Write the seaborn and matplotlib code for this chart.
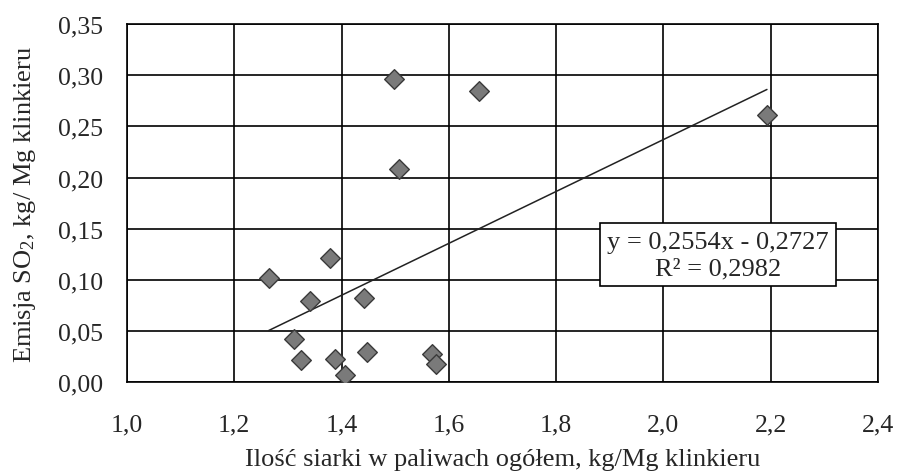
import numpy as np
import pandas as pd
import matplotlib
matplotlib.use("Agg")
import matplotlib.pyplot as plt
import seaborn as sns

# sulphur in fuels (x) vs SO2 emission (y), kg/Mg clinker
siarka = [1.497, 1.657, 1.507, 1.378, 1.264, 1.342, 1.441, 1.312,
          1.324, 1.388, 1.406, 1.447, 1.568, 1.576, 2.193]
emisja = [0.296, 0.285, 0.208, 0.1215, 0.102, 0.079, 0.082, 0.042,
          0.022, 0.023, 0.0075, 0.030, 0.028, 0.018, 0.261]
x_ticks = [1.0, 1.2, 1.4, 1.6, 1.8, 2.0, 2.2, 2.4]
y_ticks = [0.00, 0.05, 0.10, 0.15, 0.20, 0.25, 0.30, 0.35]
rownanie = "y = 0,2554x - 0,2727\nR² = 0,2982"

df = pd.DataFrame({"x": siarka, "y": emisja})

sns.set_style("white")
plt.rcParams["font.family"] = ["Liberation Serif", "DejaVu Serif"]
plt.rcParams["mathtext.fontset"] = "custom"
plt.rcParams["mathtext.rm"] = "Liberation Serif"
plt.rcParams["mathtext.it"] = "Liberation Serif:italic"

fig = plt.figure(figsize=(8.97, 4.77), dpi=100)
ax = fig.add_axes([0.1416, 0.1964, 0.9788 - 0.1416, 0.9476 - 0.1964])

sns.regplot(data=df, x="x", y="y", ax=ax, scatter=False, ci=None, truncate=True,
            line_kws={"color": "#222222", "lw": 1.1})
sns.scatterplot(data=df, x="x", y="y", ax=ax, marker="D", s=100,
                color="#7a7a7a", edgecolor="#3a3a3a", linewidth=1.0, zorder=3)

ax.set_xlim(1.0, 2.4)
ax.set_ylim(0.0, 0.35)
ax.set_xticks(x_ticks)
ax.set_yticks(y_ticks)
ax.set_xticklabels([f"{v:.1f}".replace(".", ",") for v in x_ticks])
ax.set_yticklabels([f"{v:.2f}".replace(".", ",") for v in y_ticks])
ax.grid(True, color="black", lw=1.2)
ax.set_axisbelow(True)
for s in ax.spines.values():
    s.set_color("black")
    s.set_linewidth(1.2)
ax.tick_params(axis="both", direction="out", length=6.5, width=1.2,
               color="black", labelsize=18.5)
ax.tick_params(axis="y", pad=11)
ax.tick_params(axis="x", pad=16)

ax.set_xlabel("Ilość siarki w paliwach ogółem, kg/Mg klinkieru", fontsize=19, labelpad=9)
ax.set_ylabel("Emisja SO$_{2}$, kg/ Mg klinkieru", fontsize=19, labelpad=14)

ax.text(2.102, 0.1245, rownanie, ha="center", va="center", fontsize=19,
        linespacing=1.25,
        bbox=dict(boxstyle="square,pad=0.28", fc="white", ec="black", lw=1.2),
        zorder=4)

fig.savefig("out.png", dpi=100)
